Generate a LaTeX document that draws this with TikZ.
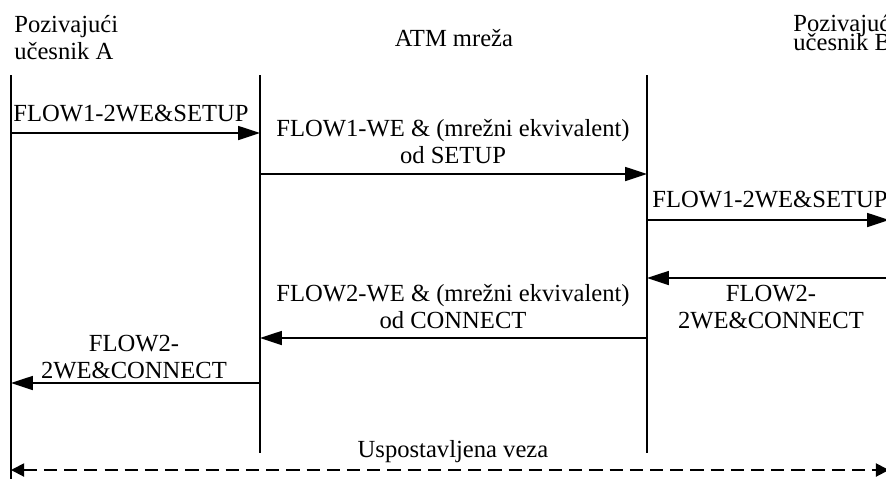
\documentclass[tikz,border=0pt]{standalone}
\usepackage{fontspec}
\setmainfont{Liberation Serif}
\usetikzlibrary{arrows.meta}

\begin{document}
\begin{tikzpicture}[x=0.02cm, y=-0.02cm,
  every node/.style={font=\fontsize{14}{15.3}\selectfont, inner sep=0pt, anchor=base, align=center},
  life/.style={line width=0.85pt},
  msg/.style={line width=0.85pt, -{Triangle[length=12.5pt, width=8pt]}},
  veza/.style={line width=1.1pt, dash pattern=on 7.5pt off 4pt,
    {Triangle[length=7.5pt, width=7.5pt]}-{Triangle[length=7.5pt, width=7.5pt]}}]
  \useasboundingbox (0,0) rectangle (886,478);
  \clip (0,0) rectangle (886,478);

  % lifelines
  \coordinate (A) at (11,75);
  \coordinate (N1) at (260,75);
  \coordinate (N2) at (647,75);
  \coordinate (B) at (889,75);
  \draw[life] (A) -- (A |- 0,482);
  \draw[life] (N1) -- (N1 |- 0,453);
  \draw[life] (N2) -- (N2 |- 0,453);

  % headers (base = last line)
  \node[anchor=base west, align=left] (hA) at (14,59) {Pozivajući\\učesnik A};
  \node (hN) at (454,46) {ATM mreža};
  \node[anchor=base west, align=left] (hB) at (793,50) {Pozivajući\\[-4.5pt]učesnik B};

  % setup
  \draw[msg] (A |- 0,133) -- (N1 |- 0,133);
  \node (m1) at (131,121) {FLOW1-2WE\&SETUP};
  \draw[msg] (N1 |- 0,174) -- (N2 |- 0,174);
  \node (m2) at (453,163) {FLOW1-WE \& (mrežni ekvivalent)\\od SETUP};
  \draw[msg] (N2 |- 0,220) -- (B |- 0,220);
  \node (m3) at (770,207) {FLOW1-2WE\&SETUP};

  % connect
  \draw[msg] (B |- 0,278) -- (N2 |- 0,278);
  \node (m4) at (771,328) {FLOW2-\\2WE\&CONNECT};
  \draw[msg] (N2 |- 0,338) -- (N1 |- 0,338);
  \node (m5) at (453,328) {FLOW2-WE \& (mrežni ekvivalent)\\od CONNECT};
  \draw[msg] (N1 |- 0,383) -- (A |- 0,383);
  \node (m6) at (134,378) {FLOW2-\\2WE\&CONNECT};

  \draw[veza] (A |- 0,470) -- (B |- 0,470);
  \node (m7) at (453,457) {Uspostavljena veza};
\end{tikzpicture}
\end{document}
